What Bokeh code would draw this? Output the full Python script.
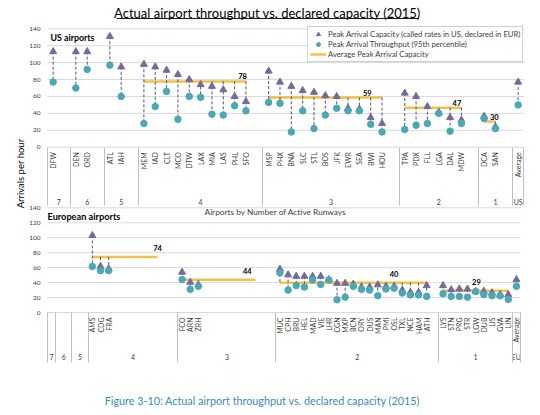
import math
from bokeh.plotting import figure
from bokeh.models import Range1d, LinearAxis, FixedTicker, Label, Legend, LegendItem
from bokeh.core.properties import value
from bokeh.embed import file_html
from bokeh.resources import INLINE

# ---------------- data ----------------
chart_title = "Actual airport throughput vs. declared capacity (2015)"
caption = "Figure 3-10: Actual airport throughput vs. declared capacity (2015)"
y_axis_title = "Arrivals per hour"
x_axis_title = "Airports by Number of Active Runways"
series_names = ["Peak Arrival Capacity (called rates in US, declared in EUR)",
                "Peak Arrival Throughput (95th percentile)",
                "Average Peak Arrival Capacity"]
value_ticks = [0, 20, 40, 60, 80, 100, 120, 140]

us_title = "US airports"
us_groups = ["7", "6", "5", "4", "3", "2", "1", "US"]
us_group_slots = [2, 3, 3, 11, 12, 7, 3, 1]
us_airports = [
    ["DFW"], ["DEN", "ORD"], ["ATL", "IAH"],
    ["MEM", "IAD", "CLT", "MCO", "DTW", "LAX", "MIA", "LAS", "PHL", "SFO"],
    ["MSP", "PHX", "BNA", "SLC", "STL", "BOS", "JFK", "EWR", "SEA", "BWI", "HOU"],
    ["TPA", "PDX", "FLL", "LGA", "DAL", "MDW"],
    ["DCA", "SAN"], ["Average"]]
us_capacity = [
    [113], [113, 113], [131, 95],
    [98, 95, 91, 86, 80, 74, 72, 68, 60, 54],
    [90, 77, 72, 67, 65, 61, 60, 46, 45, 35, 28],
    [64, 60, 48, 41, 35, 32],
    [36.5, 24], [77]]
us_throughput = [
    [77], [70, 92], [97, 60],
    [28, 48, 66, 33, 60, 59, 39, 38, 49, 43],
    [53, 52, 18, 43, 22, 38, 46, 43, 43, 27, 18],
    [21, 26, 28, 40, 19, 28],
    [34, 22], [50]]
us_avg_span = [0, 0, 0, 10, 11, 6, 2, 0]

eu_title = "European airports"
eu_groups = ["7", "6", "5", "4", "3", "2", "1", "EU"]
eu_group_slots = [1, 2, 2, 11, 12, 20, 9, 1]
eu_airports = [
    [], [], [],
    ["AMS", "CDG", "FRA"],
    ["FCO", "ARN", "ZRH"],
    ["MUC", "CPH", "BRU", "HEL", "MAD", "VIE", "LHR", "CGN", "MXP", "BCN",
     "ORY", "DUS", "MAN", "PMI", "OSL", "TXL", "NCE", "HAM", "ATH"],
    ["LYS", "STN", "PRG", "STR", "LGW", "DUB", "LIS", "GVA", "LIN"],
    ["Average"]]
eu_capacity = [
    [], [], [],
    [103, 61.5, 58.5],
    [54, 40.5, 37],
    [58, 50.5, 48.5, 48.5, 48.5, 48.5, 44, 39, 39, 38,
     34, 34, 37, 35, 35, 30, 27, 27, 36],
    [36, 30.5, 31.5, 31.5, 28.5, 28.5, 26.5, 24, 24],
    [44]]
eu_throughput = [
    [], [], [],
    [61.5, 56, 56],
    [44, 31, 35],
    [53, 30, 36, 34, 43.5, 37.5, 43.5, 17, 20.5, 35,
     31, 30, 22.5, 31.5, 32.5, 26, 23.5, 23.5, 21.5],
    [25, 21.5, 21.5, 20.5, 28, 24, 22.5, 22.5, 17.5],
    [35]]
eu_avg_span = [0, 0, 0, 9, 10, 19, 9, 0]

# ---------------- layout / style (pixels) ----------------
W, H = 540, 415
PLOT_LEFT = 47.0
US_RIGHT, EU_RIGHT = 523.3, 520.0
US_Y0, US_Y140 = 146.7, 28.3
EU_Y0, EU_Y140 = 312.0, 207.3
US_LABEL_SLOT = {"4": 17.2, "3": 28.2, "2": 36.1, "1": 39.4}
EU_LABEL_SLOT = {"4": 13.5, "3": 24.5, "2": 42.5, "1": 52.6}

FONT = "Lato"
TRI = "#77699B"
CIRC = "#4BA8B5"
DASH = "#55546A"
AVG = "#F0C24A"
GRID = "#D9D9D9"
SEP = "#BFBFBF"
TICK = "#404040"


def vrange(y0, y140):
    ppu = (y0 - y140) / 140.0
    start = -(H - y0) / ppu
    return Range1d(start, start + H / ppu)


def hrange(x0, x1, n):
    pps = (x1 - x0) / n
    start = -x0 / pps
    return Range1d(start, start + W / pps)


p = figure(width=W, height=H, output_backend="svg", toolbar_location=None,
           x_axis_type=None, y_axis_type=None,
           x_range=hrange(PLOT_LEFT, US_RIGHT, sum(us_group_slots)),
           y_range=Range1d(0, H),
           min_border_left=0, min_border_right=0,
           min_border_top=0, min_border_bottom=0)
p.outline_line_color = None
p.background_fill_color = "white"
p.border_fill_color = "white"
p.extra_x_ranges = {"eu": hrange(PLOT_LEFT, EU_RIGHT, sum(eu_group_slots)),
                    "px": Range1d(0, W)}
p.extra_y_ranges = {"us": vrange(US_Y0, US_Y140), "eu": vrange(EU_Y0, EU_Y140)}


def panel(groups, slots, airports, cap, thr, span, label_slot, xr, yr,
          label_dy, sep_len, name_standoff, group_standoff):
    rn = dict(x_range_name=xr, y_range_name=yr)
    total = sum(slots)
    xs, cs, ts = [], [], []
    hx, htop, hbot = [], [], []
    ax0, ax1, ay = [], [], []
    lx, ly, lt = [], [], []
    names = {}
    gcent, gnames, bounds = [], {}, [0]
    start = 0
    for g, n, apts, c, t, s in zip(groups, slots, airports, cap, thr, span):
        avg = sum(c) / len(c) if s else None
        if s:
            ax0.append(start + 0.5)
            ax1.append(start + s - 0.5)
            ay.append(avg)
            lx.append(label_slot[g])
            ly.append(avg)
            lt.append(str(round(avg)))
        for i, a in enumerate(apts):
            x = start + i + 0.5
            xs.append(x)
            cs.append(c[i])
            ts.append(t[i])
            names[x] = a
            vals = [c[i], t[i]] + ([avg] if s and i < s else [])
            hx.append(x)
            htop.append(max(vals))
            hbot.append(min(vals))
        gc = start + n / 2
        gcent.append(gc)
        gnames[gc] = g
        start += n
        bounds.append(start)

    # horizontal gridlines at the value ticks
    p.segment(x0=[0] * len(value_ticks), x1=[total] * len(value_ticks),
              y0=value_ticks, y1=value_ticks, line_color=GRID, line_width=1, **rn)
    avg_r = p.segment(x0=ax0, y0=ay, x1=ax1, y1=ay, line_color=AVG, line_width=2.5, **rn)
    p.segment(x0=hx, y0=htop, x1=hx, y1=hbot, line_color=DASH, line_width=1,
              line_dash="3 2", **rn)
    tri = p.scatter(xs, cs, marker="triangle", size=7, fill_color=TRI, line_color=TRI, **rn)
    cir = p.scatter(xs, ts, marker="circle", size=6.5, fill_color=CIRC, line_color=CIRC, **rn)
    p.text(lx, ly, text=lt, text_font=value(FONT), text_font_style="bold",
           text_font_size="7.5px", text_align="center", text_baseline="bottom",
           y_offset=label_dy, text_color="#000000", **rn)

    common = dict(fixed_location=0, axis_line_color=None, major_tick_line_color=None,
                  minor_tick_line_color=None, major_tick_out=0, major_tick_in=0,
                  minor_tick_out=0, minor_tick_in=0, major_label_text_font=FONT,
                  major_label_text_color=TICK, **rn)

    yax = LinearAxis(ticker=FixedTicker(ticks=value_ticks), major_label_standoff=7,
                     major_label_text_font_size="6.5px", **common)
    p.add_layout(yax, "left")

    xax = LinearAxis(ticker=FixedTicker(ticks=xs), major_label_overrides=names,
                     major_label_orientation=math.pi / 2,
                     major_label_standoff=name_standoff,
                     major_label_text_font_size="7px", **common)
    p.add_layout(xax, "below")

    gax = LinearAxis(ticker=FixedTicker(ticks=gcent), major_label_overrides=gnames,
                     major_label_standoff=group_standoff,
                     major_label_text_font_size="7px", **common)
    p.add_layout(gax, "below")

    sep_common = dict(common)
    sep_common.update(minor_tick_out=sep_len, minor_tick_line_color=SEP)
    sax = LinearAxis(ticker=FixedTicker(ticks=[], minor_ticks=bounds),
                     major_label_text_font_size="1px", **sep_common)
    p.add_layout(sax, "below")
    return tri, cir, avg_r


us_tri, us_cir, us_avg = panel(us_groups, us_group_slots, us_airports, us_capacity,
                               us_throughput, us_avg_span, US_LABEL_SLOT,
                               "default", "us", -2, 58, 5, 51)
panel(eu_groups, eu_group_slots, eu_airports, eu_capacity, eu_throughput,
      eu_avg_span, EU_LABEL_SLOT, "eu", "eu", -6, 50, 5, 40)


def lab(text, cx, cy, size, **kw):
    p.add_layout(Label(x=cx, y=H - cy, x_range_name="px", text=text,
                       text_font=FONT, text_font_size=size, **kw))


lab(chart_title, 267, 12.3, "13px", text_align="center", text_baseline="middle",
    text_color="#000000")
p.segment(x0=[116], y0=[H - 18], x1=[418], y1=[H - 18], x_range_name="px",
          line_color="#000000", line_width=0.9)
lab(us_title, 50, 36.7, "8.8px", text_align="left", text_baseline="middle",
    text_font_style="bold", text_color="#000000")
lab(eu_title, 47, 215.7, "9.2px", text_align="left", text_baseline="middle",
    text_font_style="bold", text_color="#000000")
lab(x_axis_title, 275, 211.5, "8.3px", text_align="center", text_baseline="middle",
    text_color=TICK)
lab(y_axis_title, 20, 173, "9.5px", text_align="center", text_baseline="middle",
    angle=math.pi / 2, text_color="#000000")
lab(caption, 262, 400, "10.8px", text_align="center", text_baseline="middle",
    text_color="#3E8AB4")

legend = Legend(items=[LegendItem(label=series_names[0], renderers=[us_tri]),
                       LegendItem(label=series_names[1], renderers=[us_cir]),
                       LegendItem(label=series_names[2], renderers=[us_avg])],
                location=(307, H - 62), orientation="vertical",
                label_text_font=FONT, label_text_font_size="7.7px",
                label_text_color=TICK, label_height=10, glyph_height=10,
                glyph_width=16, label_standoff=2, spacing=0, padding=2,
                margin=0, border_line_color="#A0A0A0", border_line_width=1,
                background_fill_color="white", background_fill_alpha=1.0)
p.add_layout(legend)

open("out.html", "w").write(file_html(p, INLINE))
